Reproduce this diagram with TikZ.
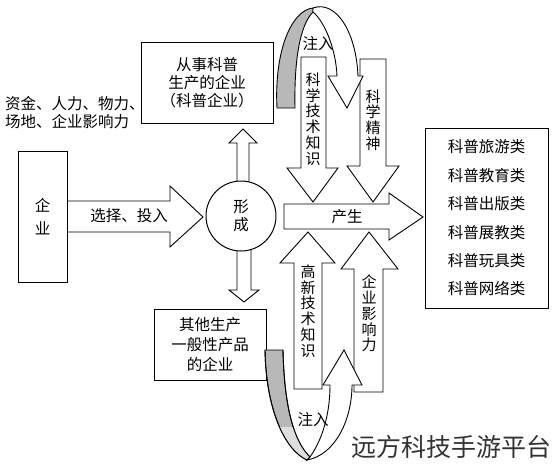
\documentclass[tikz,border=0pt]{standalone}
\usepackage{fontspec}
\setmainfont{Noto Sans CJK SC}
\usetikzlibrary{positioning,calc,backgrounds}

\tikzset{
  entbox/.style={draw, line width=1pt, inner sep=0pt},
  blockarrow/.style={draw, fill=white, line width=0.9pt, line join=miter},
  backside/.style={draw, fill=black!28, line width=0.9pt},
  lbl/.style={font=\fontsize{15.5}{18}\selectfont, align=center, inner sep=0pt},
  vlbl/.style={font=\fontsize{15}{15.8}\selectfont, align=center, inner sep=0pt},
}

\begin{document}
\begin{tikzpicture}[x=1pt,y=-1pt]
  \useasboundingbox (0,0) rectangle (554,469);

  % enterprises and products
  \node[entbox, minimum width=132pt, minimum height=81pt, lbl] (scient) at (207,82.5)
    {从事科普\\生产的企业\\（科普企业）};
  \node[lbl, anchor=west, align=left] (resources) at (5,113)
    {资金、人力、物力、\\场地、企业影响力};
  \node[entbox, minimum width=49pt, minimum height=131pt,
        font=\fontsize{15.5}{23}\selectfont, align=center] (ent) at (42.5,216.5) {企\\业};
  \node[entbox, minimum width=112pt, minimum height=71pt,
        font=\fontsize{15.5}{20}\selectfont, align=center] (otherent) at (210,344.5)
    {其他生产\\一般性产品\\的企业};
  \node[entbox, minimum width=123pt, minimum height=180pt,
        font=\fontsize{15.5}{28.4}\selectfont, align=center] (products) at (486.5,218)
    {科普旅游类\\科普教育类\\科普出版类\\科普展教类\\科普玩具类\\科普网络类};

  % forming node
  \node[circle, draw, fill=white, line width=1pt, minimum size=70pt,
        font=\fontsize{15.5}{18}\selectfont, align=center, inner sep=0pt] (form) at (241,216)
    {形\\成};

  \begin{scope}[on background layer]
    % select and invest
    \draw[blockarrow] (ent.east |- 0,201) -- (170,201) -- (170,186) -- (203,217)
      -- (170,247) -- (170,232) -- (ent.east |- 0,232);
    % up to science enterprise, down to other enterprise
    \draw[blockarrow] (237,200) -- (237,143) -- (229,143) -- (243,129) -- (257,143)
      -- (249,143) -- (249,200);
    \draw[blockarrow] (237,230) -- (237,290) -- (229,290) -- (244,302) -- (259,290)
      -- (251,290) -- (251,230);
  \end{scope}
  \node[lbl] (select) at (129,216) {选择、投入};

  % produce
  \draw[blockarrow] (284,204) -- (389,204) -- (389,193) -- (423,217) -- (389,240)
    -- (389,229) -- (284,229) -- cycle;
  \node[lbl] (produce) at (347,217) {产生};

  % arrows from above
  \draw[blockarrow] (301,57) -- (326,57) -- (326,168) -- (338,168) -- (313,202)
    -- (287,168) -- (301,168) -- cycle;
  \node[vlbl] (sciknow) at (313,119) {科\\学\\技\\术\\知\\识};
  \draw[blockarrow] (360,59) -- (386,59) -- (386,166) -- (399,166) -- (373,202)
    -- (347,166) -- (360,166) -- cycle;
  \node[vlbl] (spirit) at (373,120) {科\\学\\精\\神};

  % arrows from below
  \draw[blockarrow] (294,389) -- (322,389) -- (322,263) -- (335,263) -- (308,232)
    -- (280,263) -- (294,263) -- cycle;
  \node[vlbl] (hightech) at (308,311) {高\\新\\技\\术\\知\\识};
  \draw[blockarrow] (354,392) -- (383,392) -- (383,269) -- (398,269) -- (369,232)
    -- (341,269) -- (354,269) -- cycle;
  \node[vlbl] (influence) at (369,313.5) {企\\业\\影\\响\\力};

  % upper loop
  \draw[backside] (277,108) .. controls (274,50) and (292,10) .. (313,8)
    -- (313,12) .. controls (300,25) and (294,60) .. (295,108) -- cycle;
  \draw[blockarrow] (313,8) .. controls (335,0) and (356,30) .. (358,76)
    -- (363,76) -- (347,108) -- (328,76) -- (337,76)
    .. controls (336,50) and (325,22) .. (313,12) -- cycle;
  \node[lbl] (injtop) at (318,44) {注入};

  % lower loop
  \draw[backside] (265,350) -- (283,350) .. controls (284,400) and (292,440) .. (310,457)
    -- (307,460) .. controls (285,450) and (266,410) .. (265,350) -- cycle;
  \begin{scope}
    \clip (250,427) rectangle (320,470);
    \fill[black!13] (283,350) .. controls (284,400) and (292,440) .. (310,457)
      -- (307,460) .. controls (285,450) and (266,410) .. (265,350) -- cycle;
  \end{scope}
  \draw[line width=0.9pt] (283,350) .. controls (284,400) and (292,440) .. (310,457)
    -- (307,460) .. controls (285,450) and (266,410) .. (265,350);
  \draw[blockarrow] (307,460) .. controls (335,455) and (352,420) .. (352,385)
    -- (362,385) -- (344,350) -- (323,385) -- (330,385)
    .. controls (330,415) and (322,440) .. (310,457) -- cycle;
  \node[lbl] (injbot) at (313,420) {注入};

  % platform mark
  \node[font=\fontsize{25}{25}\selectfont, text=black!80, inner sep=0pt] (mark) at (451,447)
    {远方科技手游平台};
\end{tikzpicture}
\end{document}
